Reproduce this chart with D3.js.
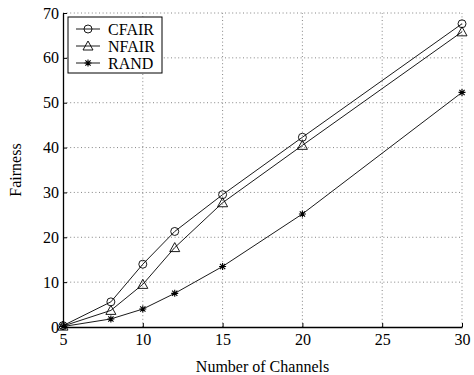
<!DOCTYPE html>
<html>
<head>
<meta charset="utf-8">
<script src="https://cdn.jsdelivr.net/npm/d3@7"></script>
<style>
  body { margin: 0; background: #fff; }
  text { font-family: "Liberation Serif", "Times New Roman", serif; fill: #000; }
</style>
</head>
<body>
<div id="container"></div>
<script>
// data
const channels = [5, 8, 10, 12, 15, 20, 30];
const cfair = [0.3, 5.6, 14.0, 21.3, 29.5, 42.3, 67.6];
const nfair = [0.2, 3.7, 9.5, 17.7, 27.7, 40.5, 65.8];
const rand  = [0.1, 1.8, 4.0, 7.5, 13.5, 25.2, 52.3];
const seriesNames = ["CFAIR", "NFAIR", "RAND"];
const xTicks = [5, 10, 15, 20, 25, 30];
const yTicks = [0, 10, 20, 30, 40, 50, 60, 70];

const W = 474, H = 375;
const m = { left: 63, right: 12, top: 13, bottom: 48 };

const x = d3.scaleLinear().domain([5, 30]).range([m.left, W - m.right]);
const y = d3.scaleLinear().domain([0, 70]).range([H - m.bottom, m.top]);

const svg = d3.select("#container").append("svg")
    .attr("width", W).attr("height", H);

// grid (dotted)
const grid = svg.append("g").attr("stroke", "#666").attr("stroke-width", 0.8)
    .attr("stroke-dasharray", "1,2.6");
grid.selectAll(".gx").data(xTicks.slice(1, -1)).enter().append("line")
    .attr("x1", d => x(d)).attr("x2", d => x(d))
    .attr("y1", y(0)).attr("y2", y(70));
grid.selectAll(".gy").data(yTicks.slice(1, -1)).enter().append("line")
    .attr("x1", x(5)).attr("x2", x(30))
    .attr("y1", d => y(d)).attr("y2", d => y(d));
// top & right dotted edges like the original
grid.append("line").attr("x1", x(5)).attr("x2", x(30)).attr("y1", y(70)).attr("y2", y(70));
grid.append("line").attr("x1", x(30)).attr("x2", x(30)).attr("y1", y(0)).attr("y2", y(70));

// axes
const xAxis = d3.axisBottom(x).tickValues(xTicks).tickSizeInner(-4).tickSizeOuter(0).tickPadding(7);
const yAxis = d3.axisLeft(y).tickValues(yTicks).tickSizeInner(-4).tickSizeOuter(0).tickPadding(4);

const gx = svg.append("g").attr("transform", `translate(0,${y(0)})`).call(xAxis);
const gy = svg.append("g").attr("transform", `translate(${x(5)},0)`).call(yAxis);
[gx, gy].forEach(g => {
  g.select(".domain").attr("stroke", "#000").attr("stroke-width", 1.3);
  g.selectAll(".tick line").attr("stroke", "#000");
  g.selectAll(".tick text").style("font-family", '"Liberation Serif", serif')
    .style("font-size", "16px").attr("fill", "#000");
});

// axis titles
svg.append("text").attr("x", (x(5) + x(30)) / 2).attr("y", H - 3)
  .attr("text-anchor", "middle").style("font-size", "16px").text("Number of Channels");
svg.append("text").attr("transform", `translate(21,${(y(0) + y(70)) / 2}) rotate(-90)`)
  .attr("text-anchor", "middle").style("font-size", "16px").text("Fairness");

// series
const allSeries = [cfair, nfair, rand];
const line = d3.line().x((d, i) => x(channels[i])).y(d => y(d));
const plot = svg.append("g");

function marker(g, type, cx, cy) {
  if (type === 0) {
    g.append("circle").attr("cx", cx).attr("cy", cy).attr("r", 4)
      .attr("fill", "none").attr("stroke", "#000").attr("stroke-width", 0.9);
  } else if (type === 1) {
    g.append("path").attr("d", `M${cx},${cy - 5}L${cx + 5},${cy + 4}L${cx - 5},${cy + 4}Z`)
      .attr("fill", "none").attr("stroke", "#000").attr("stroke-width", 0.9);
  } else {
    const s = 3.5;
    g.append("path")
      .attr("d", `M${cx - s},${cy}L${cx + s},${cy}M${cx},${cy - s}L${cx},${cy + s}` +
                 `M${cx - s * 0.75},${cy - s * 0.75}L${cx + s * 0.75},${cy + s * 0.75}` +
                 `M${cx - s * 0.75},${cy + s * 0.75}L${cx + s * 0.75},${cy - s * 0.75}`)
      .attr("stroke", "#000").attr("stroke-width", 1.1);
  }
}

allSeries.forEach((vals, k) => {
  plot.append("path").datum(vals).attr("d", line)
    .attr("fill", "none").attr("stroke", "#000").attr("stroke-width", 0.9);
  vals.forEach((v, i) => marker(plot, k, x(channels[i]), y(v)));
});

// legend
const lg = svg.append("g");
lg.append("rect").attr("x", 68).attr("y", 17).attr("width", 94).attr("height", 56)
  .attr("fill", "#fff").attr("stroke", "#000").attr("stroke-width", 1);
seriesNames.forEach((name, k) => {
  const ly = 29 + k * 17;
  lg.append("line").attr("x1", 76).attr("x2", 100).attr("y1", ly).attr("y2", ly)
    .attr("stroke", "#000").attr("stroke-width", 0.9);
  marker(lg, k, 88, ly);
  lg.append("text").attr("x", 108).attr("y", ly + 5.5).style("font-size", "16px").text(name);
});
</script>
</body>
</html>
